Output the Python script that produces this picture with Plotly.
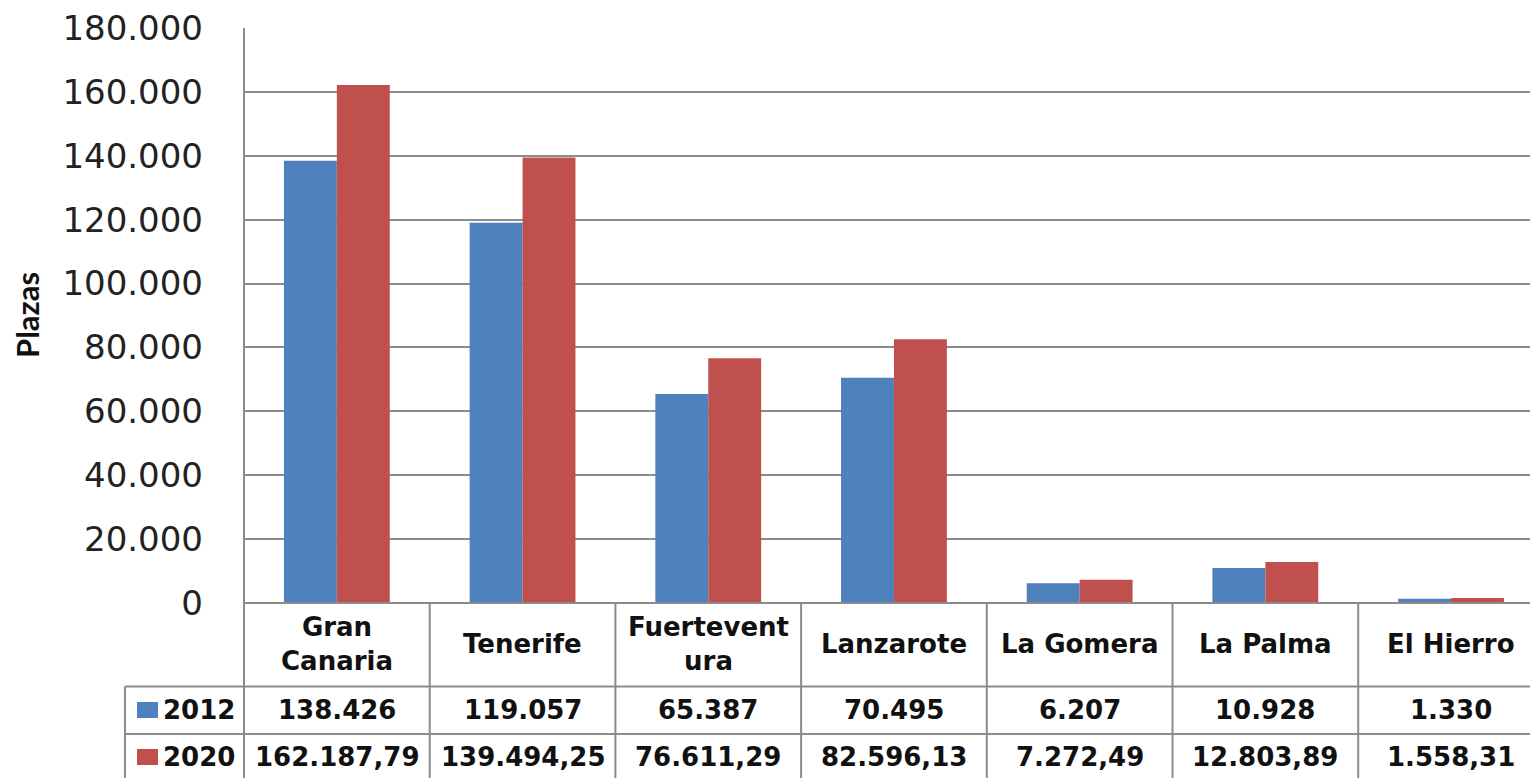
import plotly.graph_objects as go

# Plazas alojativas por isla
islands = ["Gran Canaria", "Tenerife", "Fuerteventura", "Lanzarote", "La Gomera", "La Palma", "El Hierro"]
header_labels = ["Gran<br>Canaria", "Tenerife", "Fuertevent<br>ura", "Lanzarote", "La Gomera", "La Palma", "El Hierro"]
plazas_2012 = [138426, 119057, 65387, 70495, 6207, 10928, 1330]
plazas_2020 = [162187.79, 139494.25, 76611.29, 82596.13, 7272.49, 12803.89, 1558.31]
series_names = ["2012", "2020"]
series_colors = ["#4F81BD", "#C0504D"]
y_ticks = [0, 20000, 40000, 60000, 80000, 100000, 120000, 140000, 160000, 180000]

W, H = 1530, 778
PLOT_L, PLOT_R = 244, 1530
PLOT_T, PLOT_B = 28, 603
CAT_W = 185.7          # pixel width of one category column
GRID = "#8C8C8C"
TXT = "#111111"


def es_number(v, decimals):
    s = f"{v:,.{decimals}f}"
    return s.replace(",", "_").replace(".", ",").replace("_", ".")


def py(p):
    return (PLOT_B - p) / (PLOT_B - PLOT_T)


def px(p):
    return (p - PLOT_L) / (PLOT_R - PLOT_L)


fig = go.Figure()
for name, vals, col in zip(series_names, [plazas_2012, plazas_2020], series_colors):
    fig.add_trace(go.Bar(
        x=list(range(len(islands))), y=vals, name=name,
        marker=dict(color=col, line=dict(width=0)),
        hovertext=islands,
    ))

n = len(islands)
x_max = -0.5 + (PLOT_R - PLOT_L) / CAT_W

shapes = []
line_style = dict(color=GRID, width=2)
# horizontal rules of the data table
shapes.append(dict(type="line", xref="paper", yref="paper", x0=0, x1=1, y0=0, y1=0, line=line_style))
for yy in (686.5, 734):
    shapes.append(dict(type="line", xref="paper", yref="paper", x0=px(125), x1=1,
                       y0=py(yy), y1=py(yy), line=line_style))
# vertical rules
shapes.append(dict(type="line", xref="paper", yref="paper", x0=0, x1=0, y0=1, y1=py(778), line=line_style))
shapes.append(dict(type="line", xref="paper", yref="paper", x0=px(125), x1=px(125),
                   y0=py(686.5), y1=py(778), line=line_style))
for i in range(n - 1):
    shapes.append(dict(type="line", xref="x", yref="paper", x0=i + 0.5, x1=i + 0.5,
                       y0=0, y1=py(778), line=line_style))
# legend keys
for yy, col in zip((710, 757), series_colors):
    shapes.append(dict(type="rect", xref="paper", yref="paper", x0=px(137), x1=px(158),
                       y0=py(yy - 8), y1=py(yy + 8), fillcolor=col, line=dict(width=0)))

annotations = []
tfont = dict(family="DejaVu Sans", size=26, color=TXT)
for i, lab in enumerate(header_labels):
    annotations.append(dict(xref="x", yref="paper", x=i, y=py(644), text=f"<b>{lab}</b>",
                            showarrow=False, font=tfont, xanchor="center", yanchor="middle"))
    annotations.append(dict(xref="x", yref="paper", x=i, y=py(710),
                            text=f"<b>{es_number(plazas_2012[i], 0)}</b>",
                            showarrow=False, font=tfont, xanchor="center", yanchor="middle"))
    annotations.append(dict(xref="x", yref="paper", x=i, y=py(757),
                            text=f"<b>{es_number(plazas_2020[i], 2)}</b>",
                            showarrow=False, font=tfont, xanchor="center", yanchor="middle"))
for yy, name in zip((710, 757), series_names):
    annotations.append(dict(xref="paper", yref="paper", x=px(161), y=py(yy), text=f"<b>{name}</b>",
                            showarrow=False, font=tfont, xanchor="left", yanchor="middle"))
# axis title
annotations.append(dict(xref="paper", yref="paper", x=px(27), y=py(315), text="<b>Plazas</b>",
                        textangle=-90, showarrow=False, font=dict(family="Lato", size=31, color=TXT),
                        xanchor="center", yanchor="middle"))

fig.update_layout(
    width=W, height=H,
    margin=dict(l=PLOT_L, r=W - PLOT_R, t=PLOT_T, b=H - PLOT_B, pad=0),
    paper_bgcolor="white", plot_bgcolor="white",
    barmode="group", bargap=0.43, bargroupgap=0,
    showlegend=False,
    shapes=shapes, annotations=annotations,
    xaxis=dict(range=[-0.5, x_max], showticklabels=False, showgrid=False,
               zeroline=False, showline=False, fixedrange=True),
    yaxis=dict(range=[0, 180000], tickvals=y_ticks,
               ticktext=[es_number(v, 0) for v in y_ticks],
               showgrid=True, gridcolor=GRID, gridwidth=2, zeroline=False,
               showline=False, ticks="", ticklabelstandoff=40,
               tickfont=dict(family="DejaVu Sans", size=34, color="#222222")),
)

fig.write_html("out.html")
